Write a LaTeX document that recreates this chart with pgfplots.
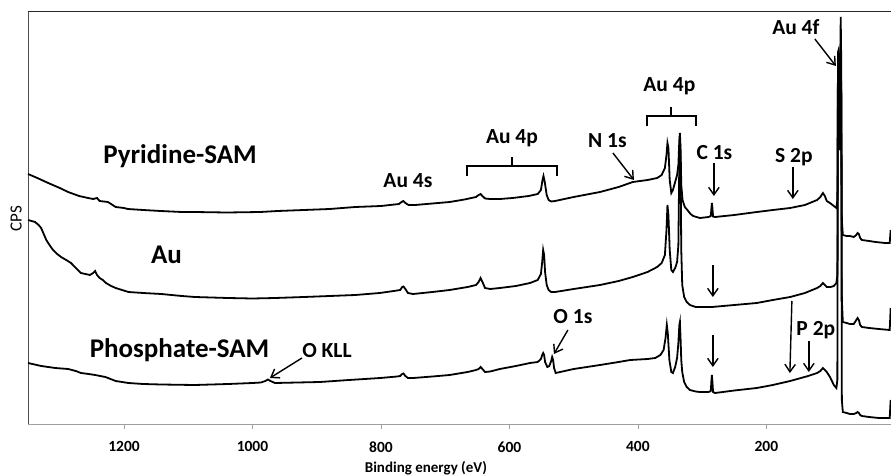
\documentclass[border=0pt]{standalone}
\usepackage{fontspec}
\setmainfont{Carlito}
\usepackage{pgfplots}
\pgfplotsset{compat=1.18}
\usetikzlibrary{arrows.meta}
\newcommand{\bigf}{\fontsize{27}{31}\selectfont\bfseries}
\newcommand{\annf}{\fontsize{21.5}{25}\selectfont\bfseries}
\tikzset{
  arr/.style={line width=1.4pt, -{Straight Barb[length=7.5pt,width=10.5pt]}},
  br/.style={line width=1.4pt},
}
\begin{document}
\begin{tikzpicture}
\begin{axis}[
  scale only axis, width=863pt, height=412pt,
  at={(0,0)}, anchor=south west,
  x dir=reverse, y dir=reverse,
  xmin=6, xmax=1349.5, ymin=12, ymax=424,
  axis x line*=bottom, axis y line*=left,
  x axis line style={gray!75, line width=0.9pt},
  y axis line style={gray!60!black, line width=0.9pt},
  xtick={200,400,600,800,1000,1200},
  xticklabels={200,400,600,800,1000,1200},
  ytick=\empty,
  tick align=outside, major tick length=5pt,
  xtick style={gray!75, line width=0.8pt},
  xticklabel style={font=\fontsize{15.5}{18}\selectfont\bfseries, yshift=-9pt},
  clip=false,
]
% top frame line
\draw[black!85, line width=1pt] (axis cs:1349.5,12) -- (axis cs:6,12);

% Pyridine-SAM
\addplot[black, line width=1.8pt] coordinates {
(1349.4,174)(1335,178)(1318,183)(1300,188)(1287,192)(1270,196)(1256,198)(1248,199)(1242,198)(1238,201)(1225,202)(1213,207)(1200,208)(1194,209)(1170,210)(1143,211)(1110,212)(1090,212)(1040,212.5)(988,212)(961,211)(920,210)(880,209)(840,207)(800,206)(786,205)(772,204)(768,202)(765,201)(762,203)(757,205)(747,205)(720,203.5)(693,202)(670,199.5)(652,197)(648,195)(645,194)(642,196)(638,198.5)(630,199)(615,199)(595,198)(570,196)(556,194)(551,190)(548.5,180)(547,176)(545,182)(542,195)(539,200)(535,201.5)(529,201)(500,197)(459,192)(430,187)(408,182)(385,180)(370,178)(363,175)(358,168)(355.5,155)(354,143)(352.5,148)(350.5,180)(348,193)(345.5,190)(342,182)(339,175)(337,165)(335.5,140)(334.6,133)(333.5,150)(332.5,185)(330.5,200)(327,207)(323,210)(318,214)(314,216)(303.5,218)(290,217)(286.5,216)(285.5,208)(284.8,203)(284,208)(283,216.5)(280,217)(250,215)(215,212)(190,210)(163,208)(140,205)(121,200)(116,197)(112,193)(109,196)(106,201)(101,203)(95,206)(91,208)(89.5,200)(88.5,60)(87.6,55)(86.8,140)(85.5,130)(84.3,17)(83.5,60)(82.5,220)(81,235)(75,236)(70,236)(64,237)(60,235)(58,233)(56,234)(54,238)(51.4,240)(40,241)(30,242)(15,243)(8,243)(6.5,230)
};
% Au
\addplot[black, line width=1.8pt] coordinates {
(1349.4,220)(1338.5,222)(1333,225)(1329,228)(1325,234)(1321,240)(1316,245)(1310.5,250)(1304,254)(1298,257)(1290,260)(1282.5,263)(1275,268)(1267,273)(1260,274)(1253,275)(1248,273)(1245,271)(1242,275)(1238,278)(1233,280)(1228,283)(1220,286)(1213,288)(1203,290)(1193,292)(1170,293)(1142,294)(1110,296)(1089.5,297)(1038,298)(1000,298.5)(965,298)(920,297)(880,296)(840,295)(802,293)(780,291)(770,290)(767,287)(765,286.5)(762,289)(758,293)(750,294)(720,292)(693,290)(665,287)(652,285)(648,282)(645,278)(642,282)(638,288)(630,289)(615,288)(590,286)(568,283)(556,280)(551,274)(549,262)(547.5,250)(546,255)(544.5,272)(542,285)(539,290)(535,292)(529,292)(500,289)(459,285)(430,281)(408,277)(385,272)(370,267)(363,263)(358,255)(355.5,230)(354,205)(352.5,215)(350.5,250)(348,270)(345.5,272)(342,268)(339,262)(337,245)(335.5,160)(334.6,135)(333.5,170)(332.5,250)(331,285)(328,297)(324,302)(319,305)(310,307)(303.5,307)(285,307)(250,305)(215,303)(190,300)(163,297)(140,293)(121,288)(116,286)(112,283)(109,285)(106,287)(100,287)(95,286)(91,283)(89.5,275)(88.5,52)(87.6,50)(86.8,150)(85.5,140)(84.3,50)(83.5,90)(82.5,300)(81,322)(75,323)(70,324)(64,324)(60,320)(58,318)(56,320)(54,325)(51.4,327)(40,328)(25,329)(8,330)(6.5,308)
};
% Phosphate-SAM
\addplot[black, line width=1.8pt] coordinates {
(1349.4,363)(1329,366)(1307,368)(1287,369)(1275,371)(1267,373)(1255,374)(1245,375)(1229,377)(1213,381)(1193,383)(1170,384)(1142,384.5)(1090,385)(1038,384)(1000,383)(987,382.5)(980,381)(976,379.5)(972,381)(965,383)(930,382.5)(895,382)(850,380)(801,378)(775,376.5)(770,376)(767,374)(765,373.5)(762,376)(758,378)(750,378)(720,376.5)(693,375)(665,372)(652,370)(648,369)(645,367)(642,369)(638,372)(630,371.5)(615,369)(590,366)(568,363)(556,362)(551,359)(549,355)(547.5,353)(546,355)(544.5,362)(541,367)(538,366)(535,361)(533.5,357)(532,360)(530.5,368)(528,373)(521,372)(500,369)(459,365)(430,362)(412,360)(385,359)(373,358)(365,355)(360,350)(357,338)(355,325)(353.5,333)(351,360)(348,372)(345.5,373)(342,367)(339,358)(337,343)(335.5,325)(334.6,322)(333.5,340)(332.5,360)(331,372)(328,382)(324,387)(319,390)(310,391.5)(303.5,392)(290,392)(286.5,391)(285.5,380)(284.8,375)(284,382)(283,392)(280,393)(250,390.5)(215,388)(190,385)(163,381)(135,376)(121,373)(116,371)(112,368)(109,370)(106,372)(101,377)(95,385)(91,388)(89.5,380)(88.5,55)(87.6,53)(86.8,150)(85.5,140)(84.3,55)(83.5,100)(82.5,400)(81,412)(75,413)(70,414)(64,414)(60,413)(58,412)(56,413)(54,415)(51.4,416)(40,417)(25,418)(8,418)(6.5,400)
};

% sample labels
\node[anchor=base, font=\bigf] at (axis cs:1112.8,163) {Pyridine-SAM};
\node[anchor=base, font=\bigf] at (axis cs:1133.9,263) {Au};
\node[anchor=base, font=\bigf] at (axis cs:1113.6,357) {Phosphate-SAM};
% peak labels
\node[anchor=base, font=\annf] at (axis cs:884,357) {O KLL};
\node[anchor=base, font=\annf] at (axis cs:758,187) {Au 4s};
\node[anchor=base, font=\annf] at (axis cs:596.1,143) {Au 4p};
\node[anchor=base, font=\annf] at (axis cs:447.5,147) {N 1s};
\node[anchor=base, font=\annf] at (axis cs:351,92) {Au 4p};
\node[anchor=base, font=\annf] at (axis cs:280.9,159) {C 1s};
\node[anchor=base, font=\annf] at (axis cs:157.2,162) {S 2p};
\node[anchor=base, font=\annf] at (axis cs:154.1,35) {Au 4f};
\node[anchor=base, font=\annf] at (axis cs:501.2,323) {O 1s};
\node[anchor=base, font=\annf] at (axis cs:123,335) {P 2p};
% arrows
\draw[arr] (axis cs:923,358) -- (axis cs:972.8,378);
\draw[arr] (axis cs:438.9,153) -- (axis cs:406.2,180);
\draw[arr] (axis cs:281.7,163) -- (axis cs:281.7,196);
\draw[arr] (axis cs:158.8,167) -- (axis cs:158.8,199);
\draw[arr] (axis cs:124.5,39) -- (axis cs:91.8,66);
\draw[arr] (axis cs:283.3,265) -- (axis cs:283.3,297);
\draw[arr] (axis cs:509,330) -- (axis cs:530.7,354);
\draw[arr] (axis cs:283.3,335) -- (axis cs:283.3,367);
\draw[arr] (axis cs:160.3,301) -- (axis cs:163.4,373);
\draw[arr] (axis cs:133.9,341) -- (axis cs:133.9,372);
% brackets
\draw[br] (axis cs:666.1,176) -- (axis cs:666.1,166) -- (axis cs:526.1,166) -- (axis cs:526.1,176);
\draw[br] (axis cs:596.1,166) -- (axis cs:596.1,157);
\draw[br] (axis cs:386,126) -- (axis cs:386,116) -- (axis cs:309.7,116) -- (axis cs:309.7,126);
\draw[br] (axis cs:348.6,116) -- (axis cs:348.6,107);
% axis titles
\node[anchor=base, font=\fontsize{15}{18}\selectfont\bfseries] at (axis cs:730,472) {Binding energy (eV)};
\node[rotate=90, font=\fontsize{17}{20}\selectfont] at (axis cs:1368,219) {CPS};
\end{axis}
\pgfresetboundingbox
\path (-28pt,-52pt) rectangle (863pt,424pt);
\end{tikzpicture}
\end{document}
